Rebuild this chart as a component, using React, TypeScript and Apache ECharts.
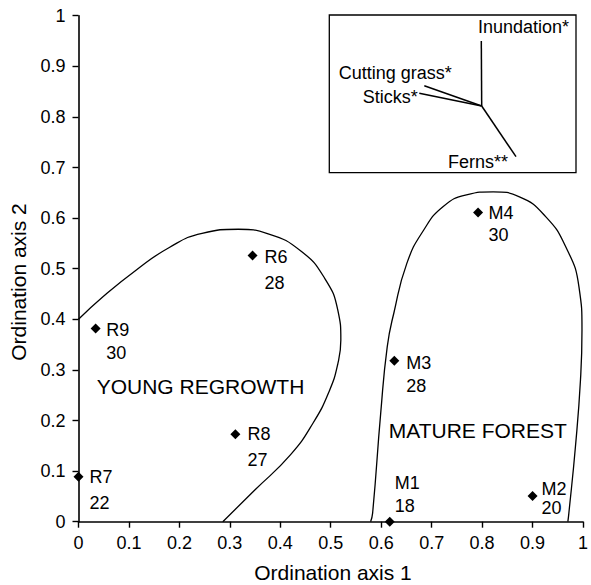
import React, { useEffect, useRef } from "react";
import * as echarts from "echarts";

// ---- data ----
const axisMin = 0;
const axisMax = 1;
const axisStep = 0.1;

const siteNames = ["R7", "R9", "R6", "R8", "M4", "M3", "M1", "M2"];
const siteX = [0.0, 0.034, 0.345, 0.311, 0.792, 0.626, 0.617, 0.9];
const siteY = [0.089, 0.382, 0.526, 0.173, 0.611, 0.318, 0.0, 0.051];
const siteValues = [22, 30, 28, 27, 30, 28, 18, 20];

// boundary of the young regrowth group
const youngX = [0, 0.049, 0.114, 0.18, 0.245, 0.317, 0.376, 0.442, 0.488, 0.514, 0.52, 0.514, 0.497, 0.465, 0.42, 0.35, 0.286];
const youngY = [0.4, 0.445, 0.497, 0.542, 0.57, 0.578, 0.569, 0.534, 0.481, 0.418, 0.359, 0.312, 0.258, 0.195, 0.132, 0.063, 0];

// boundary of the mature forest group
const matureX = [0.579, 0.583, 0.599, 0.612, 0.625, 0.651, 0.684, 0.723, 0.769, 0.822, 0.874, 0.926, 0.966, 0.992, 0.998, 0.995, 0.985, 0.972, 0.97];
const matureY = [0, 0.017, 0.214, 0.346, 0.412, 0.511, 0.576, 0.623, 0.646, 0.652, 0.642, 0.603, 0.543, 0.464, 0.379, 0.28, 0.148, 0.017, 0];

const regionNames = ["YOUNG REGROWTH", "MATURE FOREST"];
const regionX = [0.036, 0.615];
const regionY = [0.267, 0.181];

// biplot vectors of the inset (relative units, origin at 0,0)
const vectorNames = ["Inundation*", "Cutting grass*", "Sticks*", "Ferns**"];
const vectorX = [-0.004, -0.574, -0.624, 0.343];
const vectorY = [0.65, 0.203, 0.127, -0.507];
const insetXRange = [-1.524, 0.943];
const insetYRange = [-0.667, 0.91];

// ---- styling ----
const FONT = "'Liberation Sans', Arial, Helvetica, sans-serif";
const INK = "#000";

const siteLabelStyle: Record<string, { dy: number; lh: number; dist: number }> = {
  R7: { dy: 13.3, lh: 26.6, dist: 6 },
  R9: { dy: 13.3, lh: 23.3, dist: 5.5 },
  R6: { dy: 14.3, lh: 26.6, dist: 7 },
  R8: { dy: 13, lh: 26, dist: 7 },
  M4: { dy: 11.4, lh: 22.7, dist: 5.5 },
  M3: { dy: 13.5, lh: 23, dist: 7 },
  M1: { dy: -27.2, lh: 22.3, dist: 0 },
  M2: { dy: 2.5, lh: 19, dist: 4 },
};

const vectorLabelStyle: Record<string, { pos: string; dx: number; dy: number }> = {
  "Inundation*": { pos: "right", dx: -3.3, dy: -14 },
  "Cutting grass*": { pos: "left", dx: 27.4, dy: -13 },
  "Sticks*": { pos: "left", dx: -1.6, dy: 3.4 },
  "Ferns**": { pos: "left", dx: -8, dy: 5 },
};

export default function App() {
  const ref = useRef<HTMLDivElement>(null);

  useEffect(() => {
    document.body.style.margin = "0";
    if (!ref.current) return;
    const chart = echarts.init(ref.current, null, { renderer: "svg" });

    const gridMain = { left: 78.5, right: 3.5, top: 15.7, bottom: 63.3 };
    const W = 591;

    const axisCommon = {
      min: axisMin,
      max: axisMax,
      interval: axisStep,
      splitLine: { show: false },
      axisLine: { show: true, onZero: false, lineStyle: { color: INK, width: 1.6 } },
      axisTick: { show: true, inside: false, length: 6, lineStyle: { color: INK, width: 1.4 } },
      axisLabel: { color: INK, fontSize: 18, fontFamily: FONT },
    };

    const siteData = siteNames.map((n, i) => {
      const st = siteLabelStyle[n];
      return {
        name: n,
        value: [siteX[i], siteY[i], siteValues[i]],
        label: { distance: st.dist, offset: [0, st.dy], lineHeight: st.lh },
      };
    });

    const vectorSeries = vectorNames.map((n, i) => ({
      type: "line",
      xAxisIndex: 1,
      yAxisIndex: 1,
      symbol: "none",
      silent: true,
      lineStyle: { color: INK, width: 1.5 },
      data: [
        [0, 0],
        [vectorX[i], vectorY[i]],
      ],
      z: 5,
    }));

    chart.setOption({
      animation: false,
      backgroundColor: "#fff",
      textStyle: { fontFamily: FONT },
      grid: [
        gridMain,
        {
          left: 329.3,
          top: 15,
          width: 246.7,
          height: 157.7,
          show: true,
          borderColor: INK,
          borderWidth: 1.3,
          backgroundColor: "#fff",
          z: 3,
        },
      ],
      xAxis: [
        {
          ...axisCommon,
          type: "value",
          gridIndex: 0,
          axisLabel: { ...axisCommon.axisLabel, margin: 12 },
        },
        {
          type: "value",
          gridIndex: 1,
          min: insetXRange[0],
          max: insetXRange[1],
          show: false,
        },
      ],
      yAxis: [
        {
          ...axisCommon,
          type: "value",
          gridIndex: 0,
          axisLabel: { ...axisCommon.axisLabel, margin: 13 },
        },
        {
          type: "value",
          gridIndex: 1,
          min: insetYRange[0],
          max: insetYRange[1],
          show: false,
        },
      ],
      series: [
        {
          type: "line",
          name: "young",
          smooth: 0.5,
          symbol: "none",
          silent: true,
          lineStyle: { color: INK, width: 1.3 },
          data: youngX.map((x, i) => [x, youngY[i]]),
        },
        {
          type: "line",
          name: "mature",
          smooth: 0.5,
          symbol: "none",
          silent: true,
          lineStyle: { color: INK, width: 1.3 },
          data: matureX.map((x, i) => [x, matureY[i]]),
        },
        {
          type: "scatter",
          name: "sites",
          symbol: "diamond",
          symbolSize: 10,
          itemStyle: { color: INK, opacity: 1 },
          clip: false,
          label: {
            show: true,
            position: "right",
            color: INK,
            fontSize: 18,
            fontFamily: FONT,
            align: "left",
            formatter: (p: any) => `${p.name}\n${p.value[2]}`,
          },
          data: siteData,
          z: 4,
        },
        {
          type: "scatter",
          name: "regions",
          symbolSize: 0,
          silent: true,
          itemStyle: { color: INK, opacity: 1 },
          label: {
            show: true,
            position: "right",
            distance: 0,
            color: INK,
            fontSize: 21,
            fontFamily: FONT,
            formatter: (p: any) => p.name,
          },
          data: regionNames.map((n, i) => ({ name: n, value: [regionX[i], regionY[i]] })),
        },
        ...vectorSeries,
        {
          type: "scatter",
          name: "vectorLabels",
          xAxisIndex: 1,
          yAxisIndex: 1,
          symbolSize: 0,
          silent: true,
          z: 6,
          itemStyle: { color: INK, opacity: 1 },
          label: {
            show: true,
            color: INK,
            fontSize: 18,
            fontFamily: FONT,
            distance: 0,
            formatter: (p: any) => p.name,
          },
          data: vectorNames.map((n, i) => {
            const st = vectorLabelStyle[n];
            return {
              name: n,
              value: [vectorX[i], vectorY[i]],
              label: { position: st.pos, offset: [st.dx, st.dy] },
            };
          }),
        },
      ],
      graphic: [
        {
          type: "text",
          x: (gridMain.left + (W - gridMain.right)) / 2,
          y: 572,
          style: {
            text: "Ordination axis 1",
            fill: INK,
            font: `21px ${FONT}`,
            align: "center",
            verticalAlign: "middle",
          },
        },
        {
          type: "text",
          x: 18,
          y: 282,
          rotation: Math.PI / 2,
          style: {
            text: "Ordination axis 2",
            fill: INK,
            font: `21px ${FONT}`,
            align: "center",
            verticalAlign: "middle",
          },
        },
      ],
    });

    return () => chart.dispose();
  }, []);

  return <div ref={ref} style={{ width: 591, height: 585 }} />;
}
